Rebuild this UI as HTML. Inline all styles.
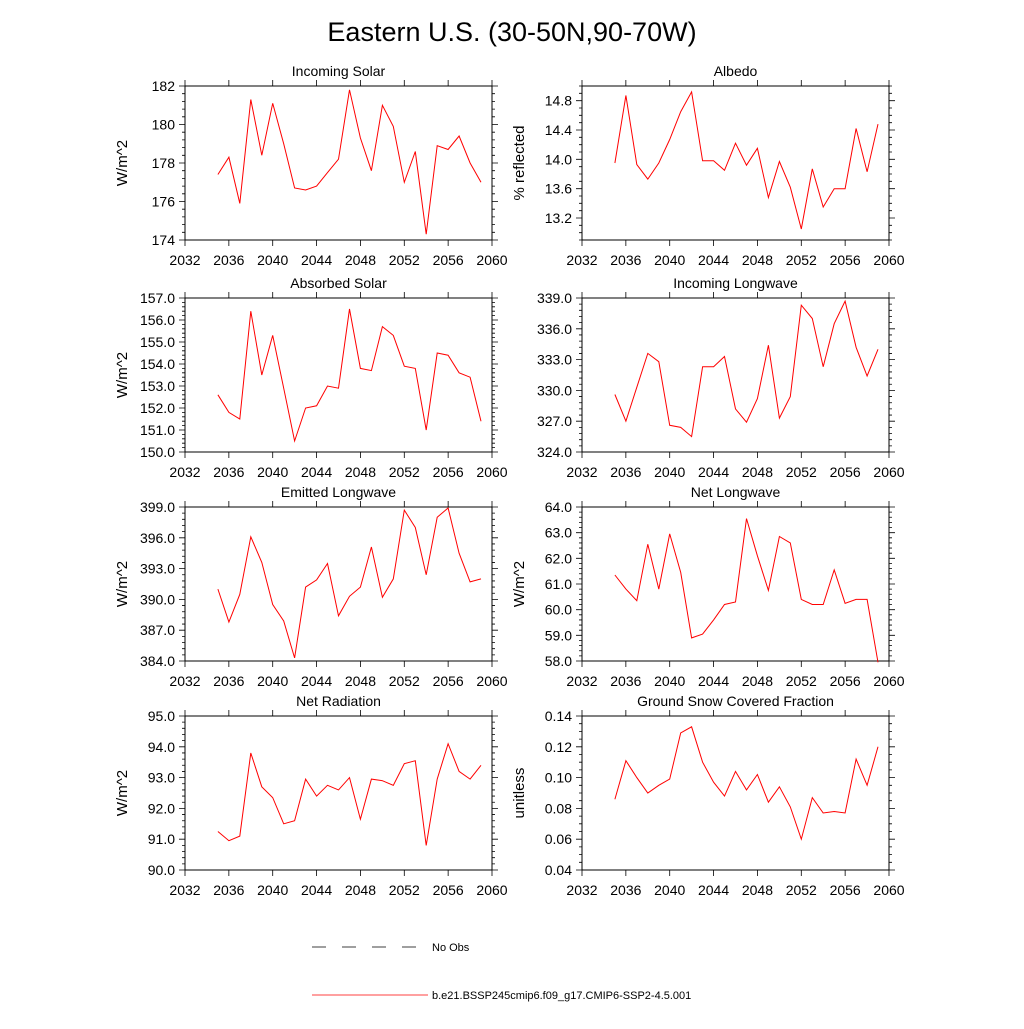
<!DOCTYPE html>
<html><head><meta charset="utf-8"><style>
body{margin:0;background:#fff;}
svg text{font-family:"Liberation Sans",sans-serif;fill:#000;}
</style></head><body>
<svg id="c" width="1024" height="1024" xmlns="http://www.w3.org/2000/svg">
<text x="512" y="41" font-size="27" text-anchor="middle">Eastern U.S. (30-50N,90-70W)</text>
<g>
<line x1="312" y1="947" x2="418" y2="947" stroke="#000" stroke-width="0.8" stroke-dasharray="14,16"/>
<text x="432" y="951" font-size="11">No Obs</text>
<line x1="312" y1="995" x2="428" y2="995" stroke="#f00" stroke-width="0.8"/>
<text x="432" y="999" font-size="11">b.e21.BSSP245cmip6.f09_g17.CMIP6-SSP2-4.5.001</text>
</g>
</svg>
<script>
const years=[2035,2036,2037,2038,2039,2040,2041,2042,2043,2044,2045,2046,2047,2048,2049,2050,2051,2052,2053,2054,2055,2056,2057,2058,2059];
const xTicks=[2032,2036,2040,2044,2048,2052,2056,2060];
const incomingSolar=[177.4,178.3,175.9,181.3,178.4,181.1,179.0,176.7,176.6,176.8,177.5,178.2,181.8,179.3,177.6,181.0,179.9,177.0,178.6,174.3,178.9,178.7,179.4,178.0,177.0];
const albedo=[13.95,14.87,13.93,13.73,13.95,14.27,14.65,14.92,13.98,13.98,13.85,14.22,13.92,14.15,13.48,13.97,13.62,13.05,13.87,13.35,13.6,13.6,14.42,13.83,14.48];
const absorbedSolar=[152.6,151.8,151.5,156.4,153.5,155.3,152.9,150.5,152.0,152.1,153.0,152.9,156.5,153.8,153.7,155.7,155.3,153.9,153.8,151.0,154.5,154.4,153.6,153.4,151.4];
const incomingLW=[329.6,327.0,330.3,333.6,332.8,326.6,326.4,325.5,332.3,332.3,333.3,328.2,326.9,329.2,334.4,327.3,329.4,338.3,337.0,332.3,336.5,338.7,334.2,331.4,334.0];
const emittedLW=[391.0,387.8,390.5,396.1,393.6,389.5,387.9,384.3,391.2,391.9,393.5,388.4,390.3,391.2,395.1,390.2,392.0,398.7,397.0,392.4,398.0,398.9,394.5,391.7,392.0];
const netLW=[61.35,60.8,60.35,62.55,60.8,62.95,61.45,58.9,59.05,59.6,60.2,60.3,63.55,62.1,60.75,62.85,62.6,60.4,60.2,60.2,61.55,60.25,60.4,60.4,57.95];
const netRad=[91.25,90.95,91.1,93.8,92.7,92.35,91.5,91.6,92.95,92.4,92.75,92.6,93.0,91.65,92.95,92.9,92.75,93.45,93.55,90.8,92.95,94.1,93.2,92.95,93.4];
const snowFrac=[0.086,0.111,0.100,0.090,0.095,0.099,0.129,0.133,0.110,0.097,0.088,0.104,0.092,0.102,0.084,0.094,0.081,0.060,0.087,0.077,0.078,0.077,0.112,0.095,0.120];
const panels=[
 {t:"Incoming Solar",yl:"W/m^2",d:incomingSolar,min:174,max:182,ticks:[174,176,178,180,182],dec:0,minor:0.4,x:185,y:86,n:"incoming-solar"},
 {t:"Albedo",yl:"% reflected",d:albedo,min:12.9,max:15.0,ticks:[13.2,13.6,14.0,14.4,14.8],dec:1,minor:0.1,x:582,y:86,n:"albedo"},
 {t:"Absorbed Solar",yl:"W/m^2",d:absorbedSolar,min:150,max:157,ticks:[150,151,152,153,154,155,156,157],dec:1,minor:0.2,x:185,y:298,n:"absorbed-solar"},
 {t:"Incoming Longwave",yl:"",d:incomingLW,min:324,max:339,ticks:[324,327,330,333,336,339],dec:1,minor:0.6,x:582,y:298,n:"incoming-longwave"},
 {t:"Emitted Longwave",yl:"W/m^2",d:emittedLW,min:384,max:399,ticks:[384,387,390,393,396,399],dec:1,minor:0.6,x:185,y:507,n:"emitted-longwave"},
 {t:"Net Longwave",yl:"W/m^2",d:netLW,min:58,max:64,ticks:[58,59,60,61,62,63,64],dec:1,minor:0.2,x:582,y:507,n:"net-longwave"},
 {t:"Net Radiation",yl:"W/m^2",d:netRad,min:90,max:95,ticks:[90,91,92,93,94,95],dec:1,minor:0.2,x:185,y:716,n:"net-radiation"},
 {t:"Ground Snow Covered Fraction",yl:"unitless",d:snowFrac,min:0.04,max:0.14,ticks:[0.04,0.06,0.08,0.10,0.12,0.14],dec:2,minor:0.005,x:582,y:716,n:"snow-fraction"}
];
const NS="http://www.w3.org/2000/svg",svg=document.getElementById('c');
function mk(tag,at,par){const e=document.createElementNS(NS,tag);for(const k in at)e.setAttribute(k,at[k]);par.appendChild(e);return e;}
const W=307,H=154;
panels.forEach(p=>{
 const g=mk('g',{},svg);
 
 
 const xs=v=>p.x+(v-2032)/28*W, ys=v=>p.y+H-(v-p.min)/(p.max-p.min)*H;
 const fr=mk('rect',{x:p.x,y:p.y,width:W,height:H,fill:'none',stroke:'#000','stroke-width':1},g);
 
 
 let tp='';
 xTicks.forEach(yr=>{const x=xs(yr);tp+=`M${x},${p.y+H}v6M${x},${p.y}v-6`;});
 const eps=1e-6;
 for(let v=Math.ceil(p.min/p.minor-eps)*p.minor;v<=p.max+eps;v+=p.minor){const y=ys(v);const maj=p.ticks.some(t=>Math.abs(t-v)<p.minor/3);const L=maj?6:3;tp+=`M${p.x},${y}h${-L}M${p.x+W},${y}h${L}`;}
 const tk=mk('path',{d:tp,stroke:'#000','stroke-width':0.8,fill:'none'},g);
 
 
 xTicks.forEach(v=>{const t=mk('text',{x:xs(v),y:p.y+H+25,'font-size':14,'text-anchor':'middle'},g);t.textContent=v;
  
  });
 p.ticks.forEach(v=>{const t=mk('text',{x:p.x-10,y:ys(v)+5,'font-size':14,'text-anchor':'end'},g);t.textContent=v.toFixed(p.dec);
  
  });
 const ti=mk('text',{x:p.x+W/2,y:p.y-10,'font-size':14,'text-anchor':'middle'},g);ti.textContent=p.t;
 
 
 if(p.yl){const yx=p.x-58,yc=p.y+H/2;const yt=mk('text',{x:yx,y:yc,'font-size':15,'text-anchor':'middle',transform:`rotate(-90 ${yx} ${yc})`},g);yt.textContent=p.yl;
  
  }
 const pts=years.map((yr,i)=>xs(yr).toFixed(1)+','+ys(p.d[i]).toFixed(1)).join(' ');
 const ln=mk('polyline',{points:pts,fill:'none',stroke:'#f00','stroke-width':1},g);
 
 
});
</script>
</body></html>
